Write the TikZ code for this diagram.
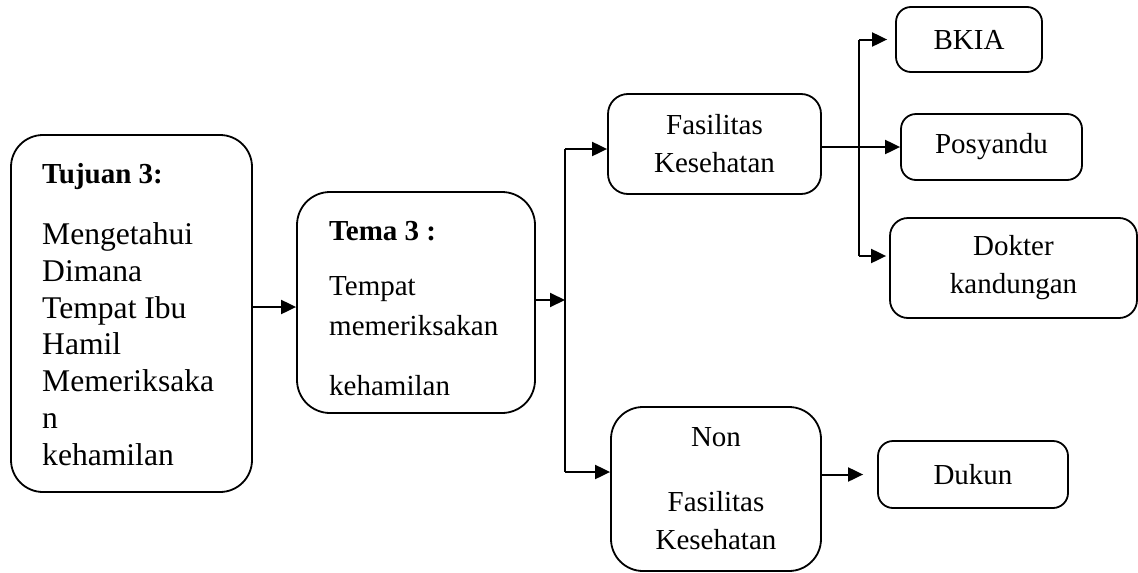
\documentclass[tikz,border=0pt]{standalone}
\usepackage{fontspec}
\setmainfont{Liberation Serif}
\usetikzlibrary{arrows.meta}
\begin{document}
\begin{tikzpicture}[x=1pt,y=-1pt,
  box/.style={draw, line width=1.8pt, inner sep=0pt},
  conn/.style={line width=2pt},
  arr/.style={conn, -{Triangle[length=15pt,width=14pt]}},
  lbl/.style={inner sep=0pt, font=\fontsize{29}{38}\selectfont, align=center},
  txt/.style={inner sep=0pt, anchor=base west, align=left},
  headfont/.style={font=\bfseries\fontsize{29}{38}\selectfont}
]
\useasboundingbox (0,0) rectangle (1138,573);

% boxes
\node[box, rounded corners=32pt, minimum width=241pt, minimum height=357pt] (tujuan) at (131.5,313.5) {};
\node[box, rounded corners=33pt, minimum width=238pt, minimum height=221pt] (tema) at (416,302.5) {};
\node[box, lbl, rounded corners=20pt, minimum width=213pt, minimum height=100pt] (fas) at (714.5,144) {Fasilitas\\Kesehatan};
\node[box, lbl, rounded corners=32pt, minimum width=210pt, minimum height=164pt] (non) at (716,489) {Non\\[27pt]Fasilitas\\Kesehatan};
\node[box, lbl, rounded corners=15pt, minimum width=146pt, minimum height=65pt] (bkia) at (969,39.5) {BKIA};
\node[box, lbl, rounded corners=15pt, minimum width=181pt, minimum height=66pt] (posy) at (991.5,147) {Posyandu};
\node[box, lbl, rounded corners=18pt, minimum width=247pt, minimum height=100pt] (dokter) at (1013.5,268) {Dokter\\kandungan};
\node[box, lbl, rounded corners=15pt, minimum width=190pt, minimum height=67pt] (dukun) at (973,474.5) {Dukun};

% texts (base anchor = baseline of last line)
\node[txt, headfont] (tujuanhead) at (42,183) {Tujuan 3:};
\node[txt, font=\fontsize{31.6}{36.7}\selectfont] (tujuanbody) at (42,465) {Mengetahui\\Dimana\\Tempat Ibu\\Hamil\\Memeriksaka\\n\\kehamilan};
\node[txt, headfont] (temahead) at (329,240) {Tema 3 :};
\node[txt, font=\fontsize{29}{40}\selectfont] (temabody) at (329,395) {Tempat\\memeriksakan\\[20pt]kehamilan};

% connectors
\coordinate (split) at (565,300);
\coordinate (splittop) at (565,149);
\coordinate (splitbot) at (565,472);
\coordinate (vtop) at (859,39.5);
\coordinate (vbot) at (859,256);

\draw[arr] ([yshift=-4.5pt]tema.west -| tujuan.east) -- ([yshift=-4.5pt]tema.west);
\draw[arr] (split -| tema.east) -- (split);
\draw[conn] (splittop) -- (splitbot);
\draw[arr] (splittop) -- (splittop -| fas.west);
\draw[arr] (splitbot) -- (splitbot -| non.west);
\draw[arr] (posy.west -| fas.east) -- (posy.west);
\draw[conn] (vtop) -- (vbot);
\draw[arr, shorten >=8pt] (vtop) -- (bkia.west);
\draw[arr, shorten >=3pt] (vbot) -- (vbot -| dokter.west);
\draw[arr, shorten >=14pt] (dukun.west -| non.east) -- (dukun.west);
\end{tikzpicture}
\end{document}
